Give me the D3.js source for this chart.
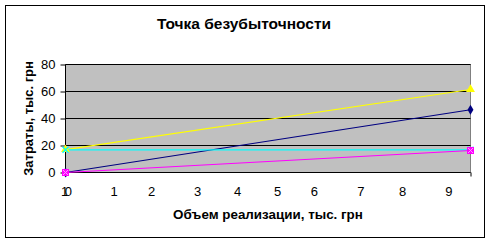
<!DOCTYPE html>
<html lang="ru">
<head>
<meta charset="UTF-8">
<title>Точка безубыточности</title>
<style>
  body { margin: 0; background: #fff; }
  text { font-family: Arial, "Liberation Sans", sans-serif; }
</style>
</head>
<body>
<div class="container"></div>
<script src="https://cdn.jsdelivr.net/npm/d3@7/dist/d3.min.js"></script>
<script>
// data
const volume = [0, 9.5]
const revenue = [0, 46.5]        // navy, diamond
const variableCost = [0, 16.3]   // magenta, square
const totalCost = [17, 61.5]     // yellow, triangle
const fixedCost = [16.8, 16.8]   // cyan, x

const yTicks = [0, 20, 40, 60, 80]
// x labels as Excel placed them (a bit irregular, "1" and "0" overlap at the start)
const xLabelText = ["1", "0", "1", "2", "3", "4", "5", "6", "7", "8", "9"]
const xLabelAt = [-0.02, 0.066, 1.14, 2.02, 3.1, 4.035, 4.975, 5.84, 6.93, 7.91, 8.99]

const width = 491
const height = 243
const plot = { left: 65.5, right: 470.5, top: 64.5, bottom: 172.5 }

const svg = d3.select('.container').append("svg")
    .attr("width", width)
    .attr("height", height)

// outer frame
svg.append("rect")
    .attr("x", 5.5).attr("y", 5.5)
    .attr("width", 479).attr("height", 232)
    .attr("fill", "#fff").attr("stroke", "#000")

const x = d3.scaleLinear().domain([0, 9.5]).range([plot.left, plot.right])
const y = d3.scaleLinear().domain([0, 80]).range([plot.bottom, plot.top])

// plot area
svg.append("rect")
    .attr("x", plot.left).attr("y", plot.top)
    .attr("width", plot.right - plot.left).attr("height", plot.bottom - plot.top)
    .attr("fill", "#c0c0c0").attr("stroke", "#808080")

// gridlines
svg.append("g").selectAll("line")
    .data(yTicks.filter(d => d > 0))
    .join("line")
    .attr("x1", plot.left).attr("x2", plot.right)
    .attr("y1", d => y(d)).attr("y2", d => y(d))
    .attr("stroke", "#000")

// y axis
const yAxis = d3.axisLeft(y).tickValues(yTicks).tickSize(5).tickPadding(5)
const yg = svg.append("g").attr("transform", `translate(${plot.left},0)`).call(yAxis)
yg.select(".domain").attr("d", `M0,${plot.top}V${plot.bottom}`).attr("stroke", "#000")
yg.selectAll("text").attr("font-size", 13).attr("fill", "#000")
    .style("font-family", "Arial, 'Liberation Sans', sans-serif")

// x axis: only end ticks
const xAxis = d3.axisBottom(x).tickValues([0, 9.5]).tickSize(4).tickFormat("")
const xg = svg.append("g").attr("transform", `translate(0,${plot.bottom})`).call(xAxis)
xg.select(".domain").attr("d", `M${plot.left},0H${plot.right}`).attr("stroke", "#000")

svg.append("g").selectAll("text")
    .data(xLabelText)
    .join("text")
    .attr("x", (d, i) => x(xLabelAt[i]))
    .attr("y", 196)
    .attr("text-anchor", "middle")
    .attr("font-size", 13)
    .attr("fill", "#000")
    .text(d => d)

// lines
const series = [
  { values: revenue, color: "#000080", marker: "diamond" },
  { values: totalCost, color: "#ffff00", marker: "triangle" },
  { values: fixedCost, color: "#00ffff", marker: "x" },
  { values: variableCost, color: "#ff00ff", marker: "square" }
]

const line = d3.line().x(d => x(d[0])).y(d => y(d[1]))

series.forEach(s => {
  const pts = volume.map((v, i) => [v, s.values[i]])
  svg.append("path")
      .datum(pts)
      .attr("fill", "none")
      .attr("stroke", s.color)
      .attr("stroke-width", 1.2)
      .attr("d", line)
})

series.forEach(s => {
  const pts = volume.map((v, i) => [v, s.values[i]])
  const g = svg.append("g")
  pts.forEach(p => {
    const cx = x(p[0]), cy = y(p[1])
    if (s.marker === "diamond") {
      g.append("path").attr("d", d3.symbol(d3.symbolDiamond, 30)())
          .attr("transform", `translate(${cx},${cy})`).attr("fill", s.color)
    } else if (s.marker === "square") {
      g.append("rect").attr("x", cx - 3.5).attr("y", cy - 3.5).attr("width", 7).attr("height", 7)
          .attr("fill", s.color)
      g.append("path").attr("d", `M${cx - 2.5},${cy - 2.5}L${cx + 2.5},${cy + 2.5}M${cx + 2.5},${cy - 2.5}L${cx - 2.5},${cy + 2.5}`)
          .attr("stroke", "#ff9cff").attr("stroke-width", 1)
    } else if (s.marker === "triangle") {
      g.append("path").attr("d", d3.symbol(d3.symbolTriangle, 34)())
          .attr("transform", `translate(${cx},${cy})`).attr("fill", s.color)
    } else {
      g.append("path").attr("d", `M${cx - 3},${cy - 3}L${cx + 3},${cy + 3}M${cx + 3},${cy - 3}L${cx - 3},${cy + 3}`)
          .attr("stroke", s.color).attr("stroke-width", 1.3)
    }
  })
})

// titles
svg.append("text")
    .attr("x", 244).attr("y", 29)
    .attr("text-anchor", "middle")
    .attr("font-size", 15.5).attr("font-weight", "bold")
    .text("Точка безубыточности")

svg.append("text")
    .attr("x", 268).attr("y", 219)
    .attr("text-anchor", "middle")
    .attr("font-size", 13.4).attr("font-weight", "bold")
    .text("Объем реализации, тыс. грн")

svg.append("text")
    .attr("transform", "translate(32.5,118.5) rotate(-90)")
    .attr("text-anchor", "middle")
    .attr("font-size", 13).attr("font-weight", "bold")
    .text("Затраты, тыс. грн")
</script>
</body>
</html>
